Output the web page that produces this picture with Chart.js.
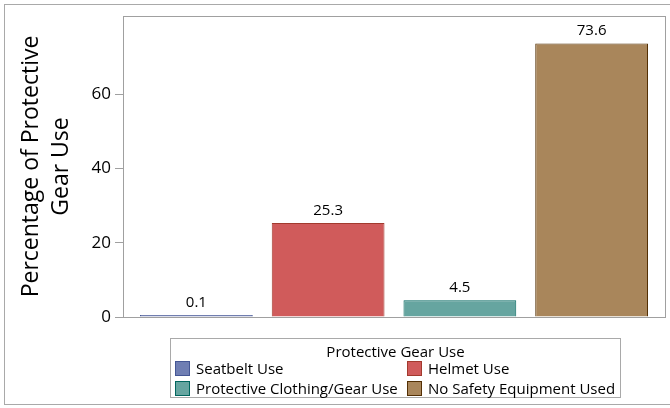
<!DOCTYPE html>
<html>
<head>
<meta charset="utf-8">
<script src="https://cdn.jsdelivr.net/npm/chart.js@4/dist/chart.umd.min.js"></script>
<style>
  html, body { margin: 0; padding: 0; background: #fff; }
  #wrap { position: relative; width: 670px; height: 408px; overflow: hidden; }
  #frame { position: absolute; left: 4px; top: 4px; width: 680px; height: 401px; border: 1px solid #a9a9a9; box-sizing: border-box; }
  canvas { position: absolute; left: 0; top: 0; }
  #legend { position: absolute; left: 170px; top: 338px; width: 451px; height: 60px; border: 1px solid #a9a9a9; box-sizing: border-box;
            font-family: "Open Sans", "Noto Sans", sans-serif; font-size: 15px; color: #000; }
  #legend .title { position: absolute; left: 0; right: 0; top: 2px; text-align: center; }
  #legend .item { position: absolute; height: 16px; line-height: 16px; white-space: nowrap; }
  #legend .sw { position: absolute; left: 0; top: 0; width: 15px; height: 15px; box-sizing: border-box; border: 1px solid; }
  #legend .lbl { position: absolute; left: 21px; top: -1px; }
</style>
</head>
<body>
<div id="wrap">
  <div id="frame"></div>
  <canvas id="c" width="670" height="408"></canvas>
  <div id="legend"></div>
</div>
<script>
const categories = ["Seatbelt Use", "Helmet Use", "Protective Clothing/Gear Use", "No Safety Equipment Used"];
const values = [0.1, 25.3, 4.5, 73.6];
const fillColors = ["#6F7EB3", "#D05B5B", "#66A5A0", "#A9865B"];
const borderColors = ["#445694", "#A23A2E", "#01665E", "#543005"];
const yTicks = [0, 20, 40, 60];
const yTitle = ["Percentage of Protective", "Gear Use"];
const legendTitle = "Protective Gear Use";

const FONT = '"Open Sans", "Noto Sans", sans-serif';

const framePlugin = {
  id: 'frame',
  beforeDatasetsDraw(chart) {
    const a = chart.chartArea, ctx = chart.ctx;
    ctx.save();
    ctx.strokeStyle = '#a0a0a0';
    ctx.lineWidth = 1;
    ctx.strokeRect(Math.round(a.left) + 0.5, Math.round(a.top) + 0.5, Math.round(a.right - a.left), Math.round(a.bottom - a.top));
    ctx.restore();
  }
};

const labelPlugin = {
  id: 'vals',
  afterDatasetsDraw(chart) {
    const ctx = chart.ctx;
    const meta = chart.getDatasetMeta(0);
    ctx.save();
    ctx.font = '15px ' + FONT;
    ctx.fillStyle = '#000';
    ctx.textAlign = 'center';
    ctx.textBaseline = 'alphabetic';
    meta.data.forEach((el, i) => {
      ctx.fillText(values[i].toFixed(1), el.x, el.y - 8);
    });
    ctx.restore();
  }
};

new Chart(document.getElementById('c'), {
  type: 'bar',
  data: {
    labels: categories,
    datasets: [{
      data: values,
      backgroundColor: fillColors,
      borderColor: borderColors,
      borderWidth: 1,
      minBarLength: 2,
      categoryPercentage: 1,
      barPercentage: 0.856
    }]
  },
  options: {
    responsive: false,
    animation: false,
    devicePixelRatio: 1,
    layout: { padding: { left: 0, right: 5, top: 16, bottom: 91 } },
    plugins: { legend: { display: false }, tooltip: { enabled: false } },
    scales: {
      x: {
        offset: true,
        ticks: { display: false },
        grid: { display: false, drawTicks: false },
        border: { display: false },
        afterFit(s) { s.height = 0; },
        afterBuildTicks(s) { s._startValue = -0.5 - 0.057; s._valueRange = categories.length + 0.114; }
      },
      y: {
        min: 0,
        max: 81,
        afterBuildTicks(s) { s.ticks = yTicks.map(v => ({ value: v })); },
        afterFit(s) { s.width = 123; },
        ticks: { font: { family: FONT, size: 17 }, color: '#000', padding: 4 },
        grid: { drawOnChartArea: false, drawTicks: true, tickLength: 8, color: '#a0a0a0' },
        border: { display: false },
        title: {
          display: true,
          text: yTitle,
          font: { family: FONT, size: 23, lineHeight: 1.3 },
          color: '#000',
          padding: { top: 17, bottom: 0 }
        }
      }
    }
  },
  plugins: [framePlugin, labelPlugin]
});

// HTML legend built from the arrays
const lg = document.getElementById('legend');
const t = document.createElement('div');
t.className = 'title'; t.textContent = legendTitle; lg.appendChild(t);
const pos = [[4, 22], [236, 22], [4, 42], [236, 42]];
categories.forEach((c, i) => {
  const it = document.createElement('div');
  it.className = 'item';
  it.style.left = pos[i][0] + 'px';
  it.style.top = pos[i][1] + 'px';
  const sw = document.createElement('div');
  sw.className = 'sw';
  sw.style.background = fillColors[i];
  sw.style.borderColor = borderColors[i];
  const lb = document.createElement('span');
  lb.className = 'lbl'; lb.textContent = c;
  it.appendChild(sw); it.appendChild(lb);
  lg.appendChild(it);
});
</script>
</body>
</html>
